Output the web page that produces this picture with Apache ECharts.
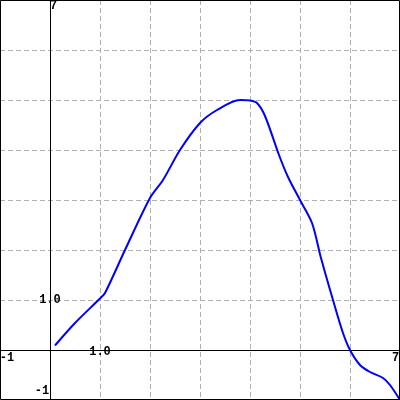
<!DOCTYPE html>
<html>
<head>
<meta charset="utf-8">
<script src="https://cdn.jsdelivr.net/npm/echarts@6/dist/echarts.min.js"></script>
<style>html,body{margin:0;padding:0;background:#fff;}#c{width:400px;height:400px;}</style>
</head>
<body>
<div id="c"></div>
<script>
var xs = [0.1, 0.5, 1.0, 1.1, 1.5, 2.0, 2.26, 2.6, 3.0, 3.34, 3.8, 4.0, 4.14, 4.3, 4.58, 4.76, 5.0, 5.24, 5.42, 5.66, 5.86, 6.0, 6.2, 6.4, 6.66, 6.8, 7.0];
var ys = [0.09, 0.54, 1.03, 1.14, 2.0, 3.04, 3.4, 4.0, 4.54, 4.8, 5.0, 4.99, 4.94, 4.68, 3.9, 3.46, 3.0, 2.54, 1.84, 1.0, 0.34, 0.0, -0.3, -0.44, -0.56, -0.7, -1.0];
var xLabels = {"-1": "-1", "1": "1.0", "7": "7"};
var yLabels = {"-1": "-1", "1": "1.0", "7": "7"};

var data = xs.map(function (x, i) { return [x, ys[i]]; });
var font = {fontFamily: 'Liberation Mono', fontWeight: 'bold', fontSize: 12, color: '#000'};
function rs(pad) { return Object.assign({padding: pad}, font); }

var chart = echarts.init(document.getElementById('c'), null, {renderer: 'canvas'});
chart.setOption({
  animation: false,
  grid: {left: 0, right: 0, top: 0, bottom: 0, containLabel: false, outerBoundsMode: 'none'},
  xAxis: {
    type: 'value', min: -1, max: 7, interval: 1, position: 'bottom', offset: -50,
    axisLine: {onZero: false, lineStyle: {color: '#000', width: 1}},
    axisTick: {show: false},
    splitLine: {show: true, lineStyle: {color: '#b0b0b0', type: [5, 3], width: 1}},
    axisLabel: Object.assign({
      margin: 2, verticalAlign: 'middle', align: 'center',
      showMinLabel: true, showMaxLabel: true, hideOverlap: false,
      formatter: function (v) {
        var k = String(v);
        if (!(k in xLabels)) return '';
        if (k === '-1') return '{a|' + xLabels[k] + '}';
        if (k === '7') return '{b|' + xLabels[k] + '}';
        return '{c|' + xLabels[k] + '}';
      },
      rich: {a: rs([12, 0, 0, 14]), b: rs([12, 9, 0, 0]), c: rs([0, 0, 0, 0])}
    }, font)
  },
  yAxis: {
    type: 'value', min: -1, max: 7, interval: 1, position: 'left', offset: -50,
    axisLine: {onZero: false, lineStyle: {color: '#000', width: 1}},
    axisTick: {show: false},
    splitLine: {show: true, lineStyle: {color: '#b0b0b0', type: [5, 3], width: 1}},
    axisLabel: Object.assign({
      margin: 0, verticalAlign: 'middle', align: 'center',
      showMinLabel: true, showMaxLabel: true, hideOverlap: false,
      formatter: function (v) {
        var k = String(v);
        if (!(k in yLabels)) return '';
        if (k === '-1') return '{a|' + yLabels[k] + '}';
        if (k === '7') return '{b|' + yLabels[k] + '}';
        return '{c|' + yLabels[k] + '}';
      },
      rich: {a: rs([0, 16, 18, 0]), b: rs([12, 0, 0, 7]), c: rs([0, 0, 0, 0])}
    }, font)
  },
  graphic: [{
    type: 'rect', z: 100, silent: true,
    shape: {x: 0.5, y: 0.5, width: 399, height: 399},
    style: {fill: 'none', stroke: '#000', lineWidth: 1}
  }],
  series: [{
    type: 'line', data: data, smooth: 0.3, showSymbol: false,
    lineStyle: {color: '#0000ff', width: 2}, clip: false
  }]
});
</script>
</body>
</html>
